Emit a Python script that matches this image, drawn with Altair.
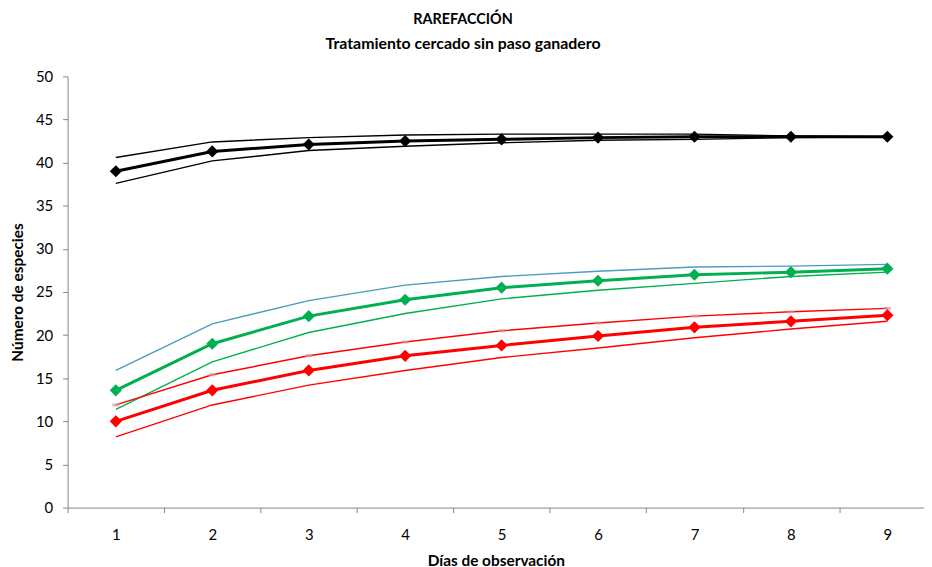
import altair as alt
import pandas as pd

dias = [1, 2, 3, 4, 5, 6, 7, 8, 9]

negro_media = [39.0, 41.3, 42.1, 42.5, 42.7, 42.9, 43.0, 43.0, 43.0]
negro_sup = [40.6, 42.4, 42.9, 43.2, 43.3, 43.3, 43.3, 43.1, 43.0]
negro_inf = [37.6, 40.2, 41.4, 41.9, 42.3, 42.6, 42.7, 42.9, 43.0]

verde_media = [13.6, 19.0, 22.2, 24.1, 25.5, 26.3, 27.0, 27.3, 27.7]
verde_sup = [15.9, 21.3, 24.0, 25.8, 26.8, 27.4, 27.9, 28.0, 28.2]
verde_inf = [11.4, 16.9, 20.3, 22.5, 24.2, 25.2, 26.0, 26.8, 27.3]

rojo_media = [10.0, 13.6, 15.9, 17.6, 18.8, 19.9, 20.9, 21.6, 22.3]
rojo_sup = [11.9, 15.4, 17.6, 19.2, 20.5, 21.4, 22.2, 22.7, 23.1]
rojo_inf = [8.2, 11.9, 14.2, 15.9, 17.4, 18.5, 19.7, 20.7, 21.6]

x_ticks = [0.5, 1, 1.5, 2, 2.5, 3, 3.5, 4, 4.5, 5, 5.5, 6, 6.5, 7, 7.5, 8, 8.5, 9]
y_ticks = [0, 5, 10, 15, 20, 25, 30, 35, 40, 45, 50]

thin_series = {
    "negro_sup": negro_sup,
    "negro_inf": negro_inf,
    "verde_sup": verde_sup,
    "verde_inf": verde_inf,
    "rojo_sup": rojo_sup,
    "rojo_inf": rojo_inf,
}
mean_series = {
    "rojo_media": rojo_media,
    "verde_media": verde_media,
    "negro_media": negro_media,
}

thin_rows = []
for name, vals in thin_series.items():
    for d, v in zip(dias, vals):
        thin_rows.append({"dia": d, "valor": v, "serie": name})
df_thin = pd.DataFrame(thin_rows)

mean_rows = []
for name, vals in mean_series.items():
    for d, v in zip(dias, vals):
        mean_rows.append({"dia": d, "valor": v, "serie": name})
df_mean = pd.DataFrame(mean_rows)

df_marks = pd.DataFrame({"dia": dias, "valor": rojo_sup})

FONT = "Lato"
AXIS_GREY = "#868686"

domain_all = ["negro_sup", "negro_inf", "verde_sup", "verde_inf", "rojo_sup", "rojo_inf",
              "rojo_media", "verde_media", "negro_media"]
range_all = ["#000000", "#000000", "#4A9BBE", "#00B050", "#FF0000", "#FF0000",
             "#FF0000", "#00B050", "#000000"]
color_scale = alt.Scale(domain=domain_all, range=range_all)

x_enc = alt.X(
    "dia:Q",
    scale=alt.Scale(domain=[0.5, 9.38], nice=False, zero=False),
    axis=alt.Axis(
        values=x_ticks,
        title="Días de observación",
        labelExpr="datum.value % 1 === 0 ? format(datum.value, 'd') : ''",
        tickOpacity={"condition": {"test": "datum.value % 1 === 0", "value": 0}, "value": 1},
        grid=False,
        tickSize=5,
        labelPadding=15,
        titlePadding=11,
        domainColor=AXIS_GREY,
        tickColor=AXIS_GREY,
        labelFont=FONT,
        labelFontSize=15,
        labelColor="#000000",
        titleFont=FONT,
        titleFontSize=15.5,
        titleFontWeight="bold",
        titleColor="#000000",
    ),
)
y_enc = alt.Y(
    "valor:Q",
    scale=alt.Scale(domain=[0, 50], nice=False),
    axis=alt.Axis(
        values=y_ticks,
        title="Número de especies",
        grid=False,
        tickSize=5,
        labelPadding=10,
        titlePadding=10,
        domainColor=AXIS_GREY,
        tickColor=AXIS_GREY,
        labelFont=FONT,
        labelFontSize=15,
        labelColor="#000000",
        titleFont=FONT,
        titleFontSize=15.5,
        titleFontWeight="bold",
        titleColor="#000000",
    ),
)

thin = alt.Chart(df_thin).mark_line(strokeWidth=1.4).encode(
    x=x_enc,
    y=y_enc,
    color=alt.Color("serie:N", scale=color_scale, legend=None),
    detail="serie:N",
)

marks = alt.Chart(df_marks).mark_tick(
    orient="horizontal", size=7, thickness=3, color="#D99694"
).encode(x="dia:Q", y="valor:Q")

mean = alt.Chart(df_mean).mark_line(
    strokeWidth=3,
    point=alt.OverlayMarkDef(shape="diamond", size=150, filled=True, opacity=1),
).encode(
    x="dia:Q",
    y="valor:Q",
    color=alt.Color("serie:N", scale=color_scale, legend=None),
    detail="serie:N",
)

chart = alt.layer(thin, marks, mean).properties(
    width=862,
    height=434,
    autosize=alt.AutoSizeParams(type="none"),
    padding={"left": 60, "top": 67, "right": 0, "bottom": 62},
    title=alt.TitleParams(
        text="RAREFACCIÓN",
        subtitle="Tratamiento cercado sin paso ganadero",
        anchor="middle",
        dx=-33,
        offset=17,
        font=FONT,
        fontSize=14.5,
        fontWeight="bold",
        color="#000000",
        subtitleFont=FONT,
        subtitleFontSize=16,
        subtitleFontWeight="bold",
        subtitleColor="#000000",
        subtitlePadding=8,
    ),
).configure_view(stroke=None)

chart.save("out.html", embed_options={"renderer": "svg", "actions": False})
